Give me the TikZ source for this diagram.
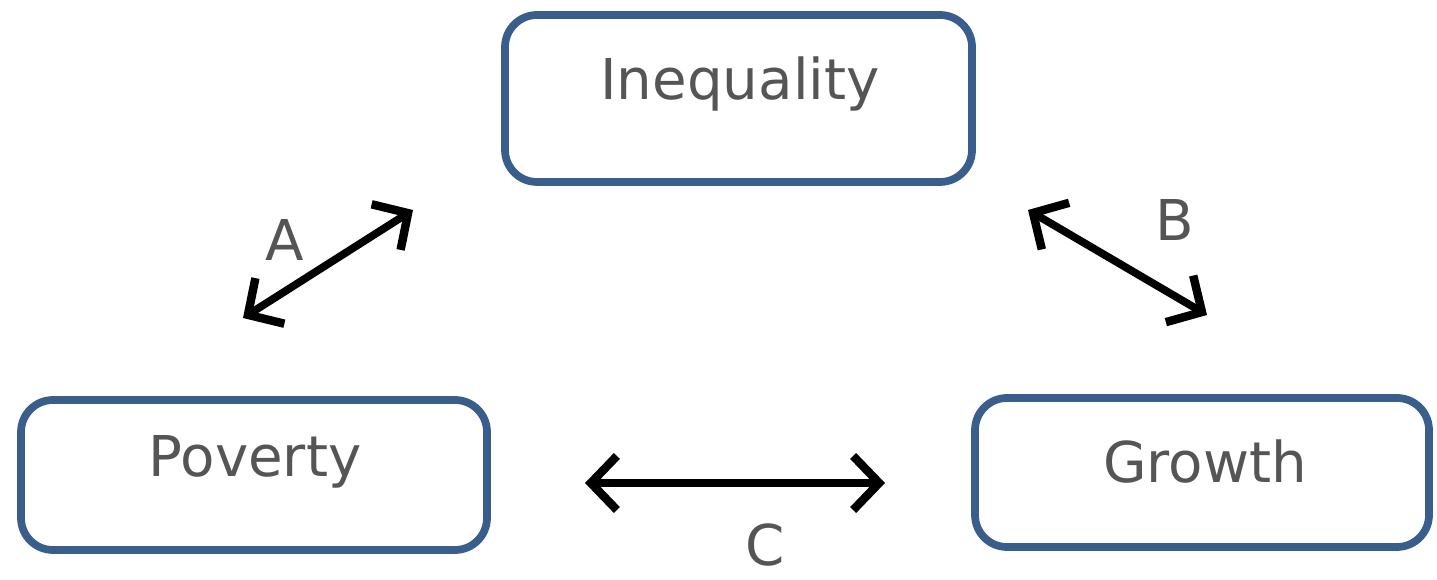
\documentclass[tikz,border=0pt]{standalone}
\usepackage{fontspec}
\setmainfont{DejaVu Sans}
\usetikzlibrary{arrows.meta}
\definecolor{boxblue}{HTML}{3A5E8C}
\definecolor{txtgray}{HTML}{555555}
\tikzset{
  box/.style={draw=boxblue, line width=2.2pt, rounded corners=0.32cm, fill=white},
  lbl/.style={text=txtgray, font=\fontsize{16}{19}\selectfont},
  dbl/.style={line width=2.2pt, {Straight Barb[length=2.6mm,width=5.4mm,line width=2.4pt]}-{Straight Barb[length=2.6mm,width=5.4mm,line width=2.4pt]}},
}
\begin{document}
\begin{tikzpicture}[x=0.01cm,y=-0.01cm]
\useasboundingbox (0,0) rectangle (1437,580);
\draw[box] (505,15) rectangle (972,182);
\draw[box] (21,400) rectangle (487,550);
\draw[box] (975,398) rectangle (1429,547);
\node[lbl] (ineq) at (740,84) {Inequality};
\node[lbl] (pov) at (255,462) {Poverty};
\node[lbl] (gro) at (1205,462) {Growth};
\coordinate (a1) at (243,318);
\coordinate (a2) at (413,210);
\coordinate (b1) at (1028,210);
\coordinate (b2) at (1207,315);
\coordinate (c1) at (585,483);
\coordinate (c2) at (885,483);
\draw[dbl] (a1) -- (a2);
\draw[dbl] (b1) -- (b2);
\draw[dbl] (c1) -- (c2);
\node[lbl] (A) at (285,240) {A};
\node[lbl] (B) at (1175,220) {B};
\node[lbl, inner sep=0pt] (C) at (765,545) {C};
\end{tikzpicture}
\end{document}
